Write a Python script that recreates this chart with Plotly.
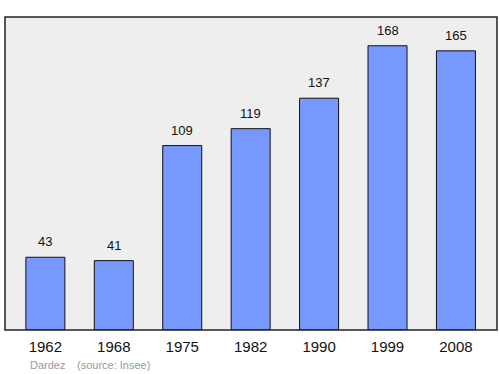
import plotly.graph_objects as go

years = ["1962", "1968", "1975", "1982", "1990", "1999", "2008"]
population = [43, 41, 109, 119, 137, 168, 165]

xpos = list(range(len(years)))

fig = go.Figure()
fig.add_trace(go.Bar(
    x=xpos, y=population, width=0.57,
    marker=dict(color="#7799ff", line=dict(color="#111111", width=1)),
    hoverinfo="skip",
))

for x, v in zip(xpos, population):
    fig.add_annotation(x=x, y=v, text=str(v), showarrow=False,
                       yanchor="bottom", yshift=6,
                       font=dict(family="Liberation Sans, Arial", size=13, color="#111111"))

fig.add_annotation(xref="paper", yref="paper", x=0.0854, y=-0.087, xanchor="center",
                   yanchor="top", text="Dardez", showarrow=False,
                   font=dict(family="Liberation Sans, Arial", size=11, color="#999999"))
fig.add_annotation(xref="paper", yref="paper", x=0.2215, y=-0.087, xanchor="center",
                   yanchor="top", text="(source: Insee)", showarrow=False,
                   font=dict(family="Liberation Sans, Arial", size=11, color="#999999"))

fig.add_shape(type="rect", xref="paper", yref="paper", x0=0, y0=0, x1=1, y1=1,
              line=dict(color="#222222", width=1.5), layer="above")

fig.update_layout(
    width=500, height=374,
    margin=dict(l=5, r=3, t=17, b=44),
    paper_bgcolor="white", plot_bgcolor="#eeeeee",
    showlegend=False,
    xaxis=dict(range=[-0.59, 6.6], tickvals=xpos, ticktext=years,
               showgrid=False, zeroline=False, ticks="", ticklabelstandoff=6,
               tickfont=dict(family="Liberation Sans, Arial", size=15, color="#111111")),
    yaxis=dict(range=[0, 185], showgrid=False, zeroline=False, showticklabels=False),
)

fig.write_html("out.html")
